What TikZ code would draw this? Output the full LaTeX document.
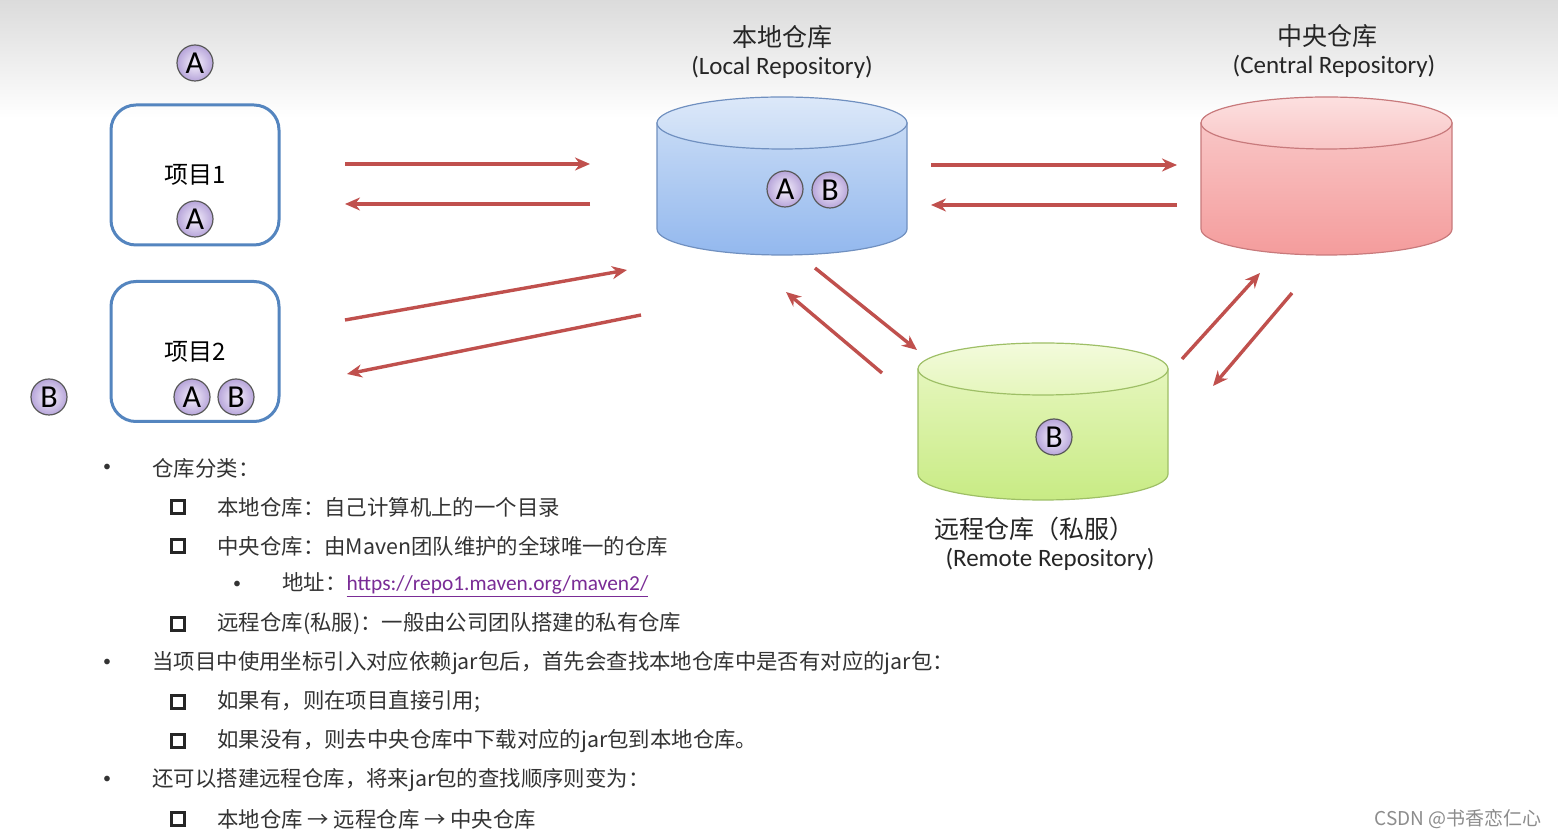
\documentclass[tikz,border=0pt]{standalone}
\usepackage{fontspec}
\setmainfont{Carlito}
\newfontfamily\cjk{Noto Sans CJK SC}
\usetikzlibrary{arrows.meta}

\definecolor{boxblue}{HTML}{5485BF}
\definecolor{flowred}{HTML}{C0504D}
\definecolor{txtgray}{HTML}{333333}
\definecolor{linkpurple}{HTML}{7A2C96}
\definecolor{badgein}{HTML}{F6F1FC}
\definecolor{badgeout}{HTML}{B7A5DA}
\definecolor{loccap}{HTML}{DCE8F9}
\definecolor{loctop}{HTML}{C6DAF5}
\definecolor{locbot}{HTML}{93B8EE}
\definecolor{locline}{HTML}{7090C0}
\definecolor{cencap}{HTML}{FCE0E0}
\definecolor{centop}{HTML}{F9C6C6}
\definecolor{cenbot}{HTML}{F49C9C}
\definecolor{cenline}{HTML}{C87A7C}
\definecolor{remcap}{HTML}{F3FBDC}
\definecolor{remtop}{HTML}{E5F6BC}
\definecolor{rembot}{HTML}{C8EB84}
\definecolor{remline}{HTML}{9EBF66}

\tikzset{
  projbox/.style={draw=boxblue, line width=1.5pt, rounded corners=12.5pt,
    minimum width=84pt, minimum height=70pt, font=\cjk\fontsize{12}{14}\selectfont},
  badge/.style={circle, draw=black!65, line width=0.6pt, inner color=badgein,
    outer color=badgeout, minimum size=18pt, inner sep=0pt,
    font=\fontsize{16}{16}\selectfont},
  flow/.style={draw=flowred, line width=1.7pt, -{Stealth[length=7.5pt,width=6.5pt]}},
  repotitle/.style={font=\cjk\fontsize{12.5}{14}\selectfont, text=black!85},
  reposub/.style={font=\fontsize{12.5}{14}\selectfont, text=black!85},
  item/.style={anchor=west, inner sep=0pt, text=txtgray,
    font=\cjk\fontsize{10.7}{12}\selectfont},
  bul/.style={inner sep=0pt, text=txtgray, font=\fontsize{8}{9}\selectfont},
  sqbul/.style={draw=black!85, line width=1.3pt, minimum size=6.5pt, inner sep=0pt},
  wmark/.style={anchor=east, inner sep=0pt, text=black!45,
    font=\cjk\fontsize{9.5}{11}\selectfont}
}

\begin{document}
\begin{tikzpicture}[x=0.5pt,y=-0.5pt]
\useasboundingbox (0,0) rectangle (1558,838);
\fill[white] (0,0) rectangle (1558,838);
\shade[top color=black!14, bottom color=white] (0,0) rectangle (1558,118);

% projects
\node[badge] (ta) at (195,63) {A};
\node[projbox] (p1) at (195,175) {项目1};
\node[badge] (p1a) at (195,219) {A};
\node[projbox] (p2) at (195,351.5) {项目2};
\node[badge] (p2a) at (192,397) {A};
\node[badge] (p2b) at (236,397) {B};
\node[badge] (lb) at (49,397) {B};

% local repository
\shade[top color=loctop, bottom color=locbot, draw=locline, line width=0.6pt]
  (657,123) -- (657,229) arc[start angle=180, end angle=0, x radius=125, y radius=26]
  -- (907,123) -- cycle;
\shade[top color=loccap, bottom color=loctop, draw=locline, line width=0.6pt]
  (782,123) ellipse[x radius=125, y radius=26];
\node[repotitle] (loct) at (782,37) {本地仓库};
\node[reposub] (locs) at (782,67) {(Local Repository)};
\node[badge] (la) at (785,189) {A};
\node[badge] (lbb) at (830,190) {B};

% central repository
\shade[top color=centop, bottom color=cenbot, draw=cenline, line width=0.6pt]
  (1201,123) -- (1201,229) arc[start angle=180, end angle=0, x radius=125.5, y radius=26]
  -- (1452,123) -- cycle;
\shade[top color=cencap, bottom color=centop, draw=cenline, line width=0.6pt]
  (1326.5,123) ellipse[x radius=125.5, y radius=26];
\node[repotitle] (cent) at (1327,36) {中央仓库};
\node[reposub] (cens) at (1334,66) {(Central Repository)};

% remote repository
\shade[top color=remtop, bottom color=rembot, draw=remline, line width=0.6pt]
  (918,369) -- (918,474) arc[start angle=180, end angle=0, x radius=125, y radius=26]
  -- (1168,369) -- cycle;
\shade[top color=remcap, bottom color=remtop, draw=remline, line width=0.6pt]
  (1043,369) ellipse[x radius=125, y radius=26];
\node[badge] (rb) at (1054,437) {B};
\node[repotitle] (remt) at (1034,529) {远程仓库（私服）};
\node[reposub] (rems) at (1050,559) {(Remote Repository)};

% arrows
\coordinate (a1s) at (345,164);  \coordinate (a1e) at (590,164);
\coordinate (a2s) at (590,204);  \coordinate (a2e) at (345,204);
\coordinate (a3s) at (345,320);  \coordinate (a3e) at (627,270);
\coordinate (a4s) at (641,315);  \coordinate (a4e) at (347,374);
\coordinate (a5s) at (931,165);  \coordinate (a5e) at (1177,165);
\coordinate (a6s) at (1177,205); \coordinate (a6e) at (931,205);
\coordinate (a7s) at (815,268);  \coordinate (a7e) at (917,350);
\coordinate (a8s) at (882,373);  \coordinate (a8e) at (786,292);
\coordinate (a9s) at (1182,359); \coordinate (a9e) at (1260,273);
\coordinate (a10s) at (1292,293); \coordinate (a10e) at (1213,386);
\foreach \i in {1,...,10}
  \draw[flow] (a\i s) -- (a\i e);

% notes
\node[bul] (b1) at (107,468) {\textbullet};
\node[item] (t1) at (152,468) {仓库分类：};
\node[sqbul] (s1) at (178,507) {};
\node[item] (t2) at (217,507) {本地仓库：自己计算机上的一个目录};
\node[sqbul] (s2) at (178,546) {};
\node[item] (t3) at (217,546) {中央仓库：由Maven团队维护的全球唯一的仓库};
\node[bul] (b2) at (237,585) {\textbullet};
\node[item] (t4) at (282,585) {地址：{\rmfamily\color{linkpurple}\underline{https://repo1.maven.org/maven2/}}};
\node[sqbul] (s3) at (178,624) {};
\node[item] (t5) at (217,624) {远程仓库(私服)：一般由公司团队搭建的私有仓库};
\node[bul] (b3) at (107,663) {\textbullet};
\node[item] (t6) at (152,663) {当项目中使用坐标引入对应依赖jar包后，首先会查找本地仓库中是否有对应的jar包：};
\node[sqbul] (s4) at (178,702) {};
\node[item] (t7) at (217,702) {如果有，则在项目直接引用;};
\node[sqbul] (s5) at (178,741) {};
\node[item] (t8) at (217,741) {如果没有，则去中央仓库中下载对应的jar包到本地仓库。};
\node[bul] (b4) at (107,780) {\textbullet};
\node[item] (t9) at (152,780) {还可以搭建远程仓库，将来jar包的查找顺序则变为：};
\node[sqbul] (s6) at (178,819) {};
\node[item] (t10) at (217,819) {本地仓库 → 远程仓库 → 中央仓库};

\node[wmark] (wm) at (1542,819) {CSDN @书香恋仁心};
\end{tikzpicture}
\end{document}
